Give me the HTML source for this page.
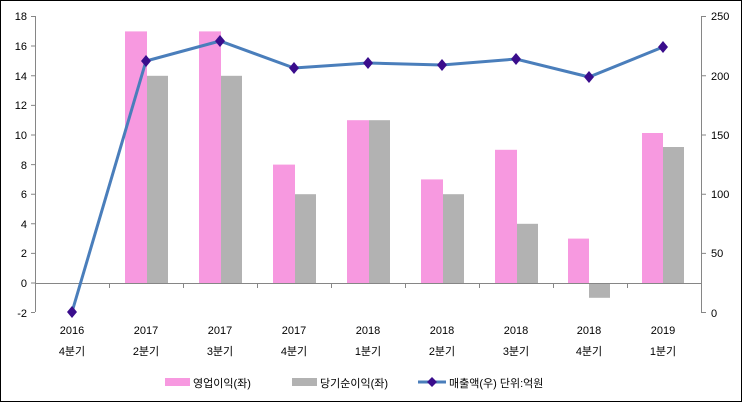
<!DOCTYPE html>
<html><head><meta charset="utf-8"><style>
body{margin:0;background:#fff}
svg{display:block}
text{font-family:"Liberation Sans","Noto Sans CJK KR","NanumGothic",sans-serif;font-size:11px;fill:#000}
</style></head><body>
<svg width="743" height="403" viewBox="0 0 743 403">
<rect x="0.5" y="0.5" width="741" height="401" fill="#fff" stroke="#000"/>
<g fill="#f799e0">
<rect x="125" y="31.4" width="22" height="251.6"/>
<rect x="199" y="31.4" width="22" height="251.6"/>
<rect x="273" y="164.6" width="22" height="118.4"/>
<rect x="347" y="120.2" width="22" height="162.8"/>
<rect x="421" y="179.4" width="22" height="103.6"/>
<rect x="495" y="149.8" width="22" height="133.2"/>
<rect x="568" y="238.6" width="21" height="44.4"/>
<rect x="642" y="133" width="21" height="150"/>
</g>
<g fill="#b2b2b2">
<rect x="147" y="75.8" width="21" height="207.2"/>
<rect x="221" y="75.8" width="21" height="207.2"/>
<rect x="295" y="194.2" width="21" height="88.8"/>
<rect x="369" y="120.2" width="21" height="162.8"/>
<rect x="443" y="194.2" width="21" height="88.8"/>
<rect x="517" y="223.8" width="21" height="59.2"/>
<rect x="589" y="283" width="21" height="14.8"/>
<rect x="663" y="147" width="21" height="136"/>
</g>
<g stroke="#868686" stroke-width="1" fill="none">
<path d="M35.5 16V312M31 16.5H35M31 46H35M31 75.8H35M31 105.4H35M31 135H35M31 164.6H35M31 194.2H35M31 223.8H35M31 253.4H35M31 283H35M31 312.5H35"/>
<path d="M35 283.5H701"/>
<path d="M109.5 283V288M183.5 283V288M257.5 283V288M331.5 283V288M405.5 283V288M479.5 283V288M553.5 283V288M627.5 283V288"/>
<path d="M701.5 16V312M701 16.5H706M701 75.8H706M701 135H706M701 194.2H706M701 253.4H706M701 312.5H706"/>
</g>
<g text-anchor="end">
<text x="27" y="20">18</text><text x="27" y="50">16</text><text x="27" y="80">14</text>
<text x="27" y="109">12</text><text x="27" y="139">10</text><text x="27" y="169">8</text>
<text x="27" y="198">6</text><text x="27" y="228">4</text><text x="27" y="257">2</text>
<text x="27" y="287">0</text><text x="27" y="317">-2</text>
</g>
<g>
<text x="711" y="20">250</text><text x="711" y="80">200</text><text x="711" y="139">150</text>
<text x="711" y="198">100</text><text x="711" y="257">50</text><text x="711" y="317">0</text>
</g>
<polyline points="72,312 146,61 220,41 294,68 368,63 442,65 516,59 589,77 663,47" fill="none" stroke="#4a7ebb" stroke-width="3"/>
<g fill="#3a0d8c">
<path d="M72 306l5 6-5 6-5-6z"/><path d="M146 55l5 6-5 6-5-6z"/><path d="M220 35l5 6-5 6-5-6z"/>
<path d="M294 62l5 6-5 6-5-6z"/><path d="M368 57l5 6-5 6-5-6z"/><path d="M442 59l5 6-5 6-5-6z"/>
<path d="M516 53l5 6-5 6-5-6z"/><path d="M589 71l5 6-5 6-5-6z"/><path d="M663 41l5 6-5 6-5-6z"/>
</g>
<g text-anchor="middle">
<text x="72" y="334">2016</text><text x="146" y="334">2017</text><text x="220" y="334">2017</text>
<text x="294" y="334">2017</text><text x="368" y="334">2018</text><text x="442" y="334">2018</text>
<text x="516" y="334">2018</text><text x="589" y="334">2018</text><text x="663" y="334">2019</text>
<text x="72" y="355" font-size="12">4분기</text><text x="146" y="355" font-size="12">2분기</text><text x="220" y="355" font-size="12">3분기</text>
<text x="294" y="355" font-size="12">4분기</text><text x="368" y="355" font-size="12">1분기</text><text x="442" y="355" font-size="12">2분기</text>
<text x="516" y="355" font-size="12">3분기</text><text x="589" y="355" font-size="12">4분기</text><text x="663" y="355" font-size="12">1분기</text>
</g>
<rect x="165" y="378" width="25" height="8" fill="#f799e0"/>
<text x="193" y="387" font-size="12">영업이익(좌)</text>
<rect x="292" y="378" width="25" height="8" fill="#b2b2b2"/>
<text x="320" y="387" font-size="12">당기순이익(좌)</text>
<line x1="418" y1="382" x2="446" y2="382" stroke="#4a7ebb" stroke-width="3"/>
<path d="M432 377l5 5-5 5-5-5z" fill="#3a0d8c"/>
<text x="449" y="387" font-size="12">매출액(우)  단위:억원</text>
</svg>
</body></html>
